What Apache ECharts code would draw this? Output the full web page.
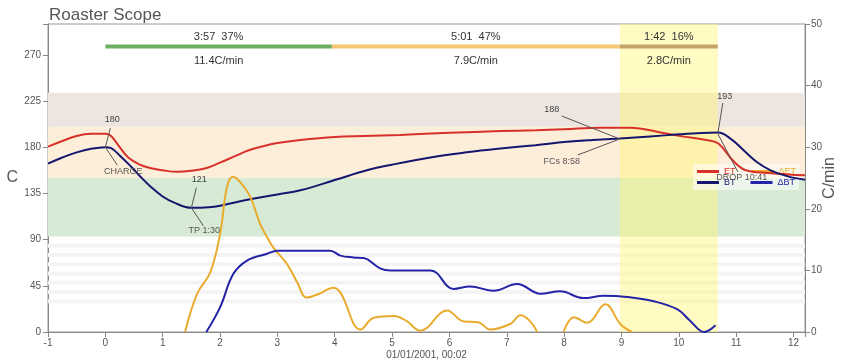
<!DOCTYPE html>
<html><head><meta charset="utf-8">
<script src="https://cdn.jsdelivr.net/npm/echarts@6/dist/echarts.min.js"></script>
<style>html,body{margin:0;padding:0;background:#fff}#c{width:841px;height:363px}</style>
</head><body><div id="c"></div>
<script>
// ---- data (time in minutes) ----
const etCurve = [[-1,180.5],[-0.75,186],[-0.5,191],[-0.25,193],[0,193],[0.1,191],[0.25,180],[0.4,170],[0.6,163],[0.8,159.5],[1,157.5],[1.25,156],[1.5,157],[1.75,159.5],[2,165],[2.25,171],[2.5,177],[2.75,181],[3,184],[3.4,187],[4,190],[4.5,191],[5.14,192],[6,194],[6.89,195.7],[7.5,196.5],[8,197.5],[8.63,198.9],[9.16,198.9],[9.68,194.4],[10.03,190.8],[10.5,186.8],[10.69,183.6],[10.96,166],[11.17,157.5],[11.55,154.9],[11.9,153.5],[12.2,152.6]];
const btCurve = [[-1,164],[-0.75,170],[-0.5,175],[-0.25,178.5],[0,180],[0.1,179],[0.25,172],[0.45,161],[0.6,152],[0.8,141],[1,132],[1.2,126],[1.5,121],[1.8,121.5],[2,123],[2.5,129],[3,134],[3.4,138],[4,148],[4.56,157.5],[5,163],[5.72,170.5],[6.3,175],[6.89,178.7],[7.5,182],[8.05,185.2],[8.5,187],[8.97,188.5],[9.5,190.5],[10,192.5],[10.4,193.8],[10.68,194.2],[10.9,188.4],[11.13,177],[11.36,165.6],[11.6,157.5],[11.9,151.6],[12.2,148.4]];
const dEtCurve = [[1.39,0],[1.6,6.2],[1.83,9.7],[2,15.9],[2.12,23.5],[2.23,25.2],[2.38,24],[2.53,21.9],[2.7,17.5],[2.82,15.4],[2.93,13.7],[3.17,11],[3.35,8],[3.51,5.6],[3.75,6.3],[3.97,7.2],[4.1,6.4],[4.45,0.4],[4.68,2.3],[5.03,2.6],[5.25,1.8],[5.49,0.2],[5.96,3.5],[6.25,1.7],[6.5,1.6],[6.71,0.4],[7.06,1.3],[7.24,2.7],[7.4,1.8],[7.53,0],[7.75,null],[7.99,0],[8.17,2.4],[8.4,1.5],[8.72,4.5],[8.98,1.3],[9.18,0]];
const dBtCurve = [[1.76,0],[2,4],[2.23,9.4],[2.47,11.6],[2.82,12.7],[3,13.2],[3.92,13.2],[4.1,12.4],[4.33,12.1],[4.5,12],[4.8,10.3],[4.97,10],[5.67,10],[6.07,7],[6.36,7.4],[6.77,6.7],[7.18,7.8],[7.59,6.2],[7.93,6.6],[8.34,5.5],[8.69,5.9],[9.1,5.7],[9.56,5],[9.97,3.7],[10.2,1.8],[10.44,0],[10.64,1.1]];

const eventTimes = [0, 1.5, 8.97, 10.68];
const eventTemps = [180, 121, 188, 193];
const eventUpLabels = ['180', '121', '188', '193'];
const eventDownLabels = ['CHARGE', 'TP 1:30', 'FCs 8:58', 'DROP 10:41'];

const phaseStarts = [0, 3.95, 8.97];
const phaseEnds = [3.95, 8.97, 10.68];
const phaseTopLabels = ['3:57  37%', '5:01  47%', '1:42  16%'];
const phaseBottomLabels = ['11.4C/min', '7.9C/min', '2.8C/min'];
const phaseLevel = 278;

const bandRanges = [[200, 233], [150, 200], [93, 150]];
const stripeRanges = [[86,82],[77,73],[68,64],[59,55],[50,46],[41,37],[32,28]];

// ---- styles ----
const FONT = 'Liberation Sans, Arial, sans-serif';
const cET = '#d8312a', cBT = '#15166e', cDET = '#e9ab2e', cDBT = '#2424a6';
const bandColors = ['#ede5df', '#fdeed9', '#d6ead5'];
const phaseColors = ['#6caf62', '#f6c774', '#c5a46a'];
// callout offsets (px) per event: [upLineEnd, upText, downLineEnd, downText]
const callouts = [
  [[5,-19],[7,-28],[12,18],[18,24]],
  [[5,-20],[8,-28],[12,18],[13,23]],
  [[-58,-23],[-68,-29],[-42,16],[-58,23]],
  [[5,-31],[7,-37],[20,38],[24,44]]
];

const chart = echarts.init(document.getElementById('c'), null, {renderer:'canvas'});

const bandAreas = bandRanges.map((r,i)=>[{yAxis:r[0], itemStyle:{color:bandColors[i]}},{yAxis:r[1]}]);
const stripeAreas = stripeRanges.map(r=>[{yAxis:r[0], itemStyle:{color:'#f4f4f4'}},{yAxis:r[1]}]);

const lineBase = {type:'line', smooth:0.4, symbol:'none', showSymbol:false, clip:true, z:5};

chart.setOption({
  animation:false,
  textStyle:{fontFamily:FONT},
  title:{text:'Roaster Scope', left:44, top:2, textStyle:{fontFamily:FONT, fontSize:17, fontWeight:'normal', color:'#555'}},
  grid:{left:48, right:36, top:24, bottom:31, show:true, borderColor:'#999', borderWidth:1, containLabel:false, outerBoundsMode:'none'},
  legend:[
    {data:[{name:'ET', textStyle:{color:cET}},{name:'ΔET', textStyle:{color:cDET}}], left:693, top:164, itemWidth:22, itemHeight:3, itemGap:16, padding:[3,4,1,4], backgroundColor:'rgba(255,255,255,0.55)', textStyle:{fontSize:9, fontFamily:FONT}, icon:'rect'},
    {data:[{name:'BT', textStyle:{color:cBT}},{name:'ΔBT', textStyle:{color:cDBT}}], left:693, top:177, itemWidth:22, itemHeight:3, itemGap:15, padding:[1,4,3,4], backgroundColor:'rgba(255,255,255,0.55)', textStyle:{fontSize:9, fontFamily:FONT}, icon:'rect'}
  ],
  graphic:[
    {type:'text', x:830, y:178, rotation:Math.PI/2, style:{text:'C/min', fill:'#555', font:'16px '+FONT, align:'center', verticalAlign:'middle'}, z:10}
  ],
  xAxis:{type:'value', min:-1, max:12.2, interval:1,
    name:'01/01/2001, 00:02', nameLocation:'middle', nameGap:18, nameMoveOverlap:false,
    nameTextStyle:{color:'#555', fontSize:10, fontFamily:FONT},
    axisLine:{onZero:false, lineStyle:{color:'#888'}}, axisTick:{lineStyle:{color:'#888'}, length:5},
    axisLabel:{color:'#555', fontSize:10, margin:6, formatter:v=>Number.isInteger(v)?String(v):''},
    splitLine:{show:false}},
  yAxis:[
    {type:'value', min:0, max:300, interval:45, name:'C', nameLocation:'middle', nameGap:30, nameRotate:0, nameMoveOverlap:false,
     nameTextStyle:{color:'#555', fontSize:16, fontFamily:FONT},
     axisLine:{show:true, onZero:false, lineStyle:{color:'#888'}}, axisTick:{show:true, lineStyle:{color:'#888'}, length:5},
     axisLabel:{color:'#555', fontSize:10, margin:7, formatter:v=>v===300?'':String(v)}, splitLine:{show:false}},
    {type:'value', min:0, max:50, interval:10, position:'right',
     axisLine:{show:true, onZero:false, lineStyle:{color:'#888'}}, axisTick:{show:true, lineStyle:{color:'#888'}, length:5},
     axisLabel:{color:'#555', fontSize:10, margin:6}, splitLine:{show:false}}
  ],
  series:[
    {type:'line', name:'bands', data:[], z:0, silent:true, markArea:{silent:true, data:bandAreas.concat(stripeAreas)}},
    {type:'line', name:'fcband', data:[], z:1, silent:true, markArea:{silent:true, itemStyle:{color:'rgba(255,246,120,0.45)'}, data:[[{xAxis:eventTimes[2]},{xAxis:eventTimes[3]}]]}},
    {type:'custom', name:'phases', z:2, silent:true, data:phaseStarts.map((s,i)=>[s, phaseEnds[i]]),
      renderItem:(params, api)=>{
        const i = params.dataIndex;
        const a = api.coord([phaseStarts[i], phaseLevel]);
        const b = api.coord([phaseEnds[i], phaseLevel]);
        const cx = (a[0]+b[0])/2;
        return {type:'group', children:[
          {type:'rect', shape:{x:a[0], y:a[1]-2, width:b[0]-a[0], height:4}, style:{fill:phaseColors[i]}},
          {type:'text', x:cx, y:a[1]-10, style:{text:phaseTopLabels[i], fill:'#333', font:'11px '+FONT, align:'center', verticalAlign:'middle'}},
          {type:'text', x:cx, y:a[1]+14, style:{text:phaseBottomLabels[i], fill:'#333', font:'11px '+FONT, align:'center', verticalAlign:'middle'}}
        ]};
      }},
    Object.assign({}, lineBase, {name:'ET', data:etCurve, yAxisIndex:0, color:cET, lineStyle:{color:cET, width:2}}),
    Object.assign({}, lineBase, {name:'BT', data:btCurve, yAxisIndex:0, color:cBT, lineStyle:{color:cBT, width:2}}),
    Object.assign({}, lineBase, {name:'ΔET', data:dEtCurve, yAxisIndex:1, color:cDET, connectNulls:false, lineStyle:{color:cDET, width:2}}),
    Object.assign({}, lineBase, {name:'ΔBT', data:dBtCurve, yAxisIndex:1, color:cDBT, lineStyle:{color:cDBT, width:2}}),
    {type:'custom', name:'events', z:8, silent:true, data:eventTimes.map((t,i)=>[t, eventTemps[i]]),
      renderItem:(params, api)=>{
        const i = params.dataIndex;
        const p = api.coord([eventTimes[i], eventTemps[i]]);
        const o = callouts[i];
        const ls = {stroke:'#555', lineWidth:1};
        return {type:'group', children:[
          {type:'line', shape:{x1:p[0], y1:p[1], x2:p[0]+o[0][0], y2:p[1]+o[0][1]}, style:ls},
          {type:'line', shape:{x1:p[0], y1:p[1], x2:p[0]+o[2][0], y2:p[1]+o[2][1]}, style:ls},
          {type:'text', x:p[0]+o[1][0], y:p[1]+o[1][1], style:{text:eventUpLabels[i], fill:'#444', font:'9px '+FONT, align:'center', verticalAlign:'middle'}},
          {type:'text', x:p[0]+o[3][0], y:p[1]+o[3][1], style:{text:eventDownLabels[i], fill:'#555', font:'9px '+FONT, align:'center', verticalAlign:'middle'}}
        ]};
      }}
  ]
});
</script></body></html>
